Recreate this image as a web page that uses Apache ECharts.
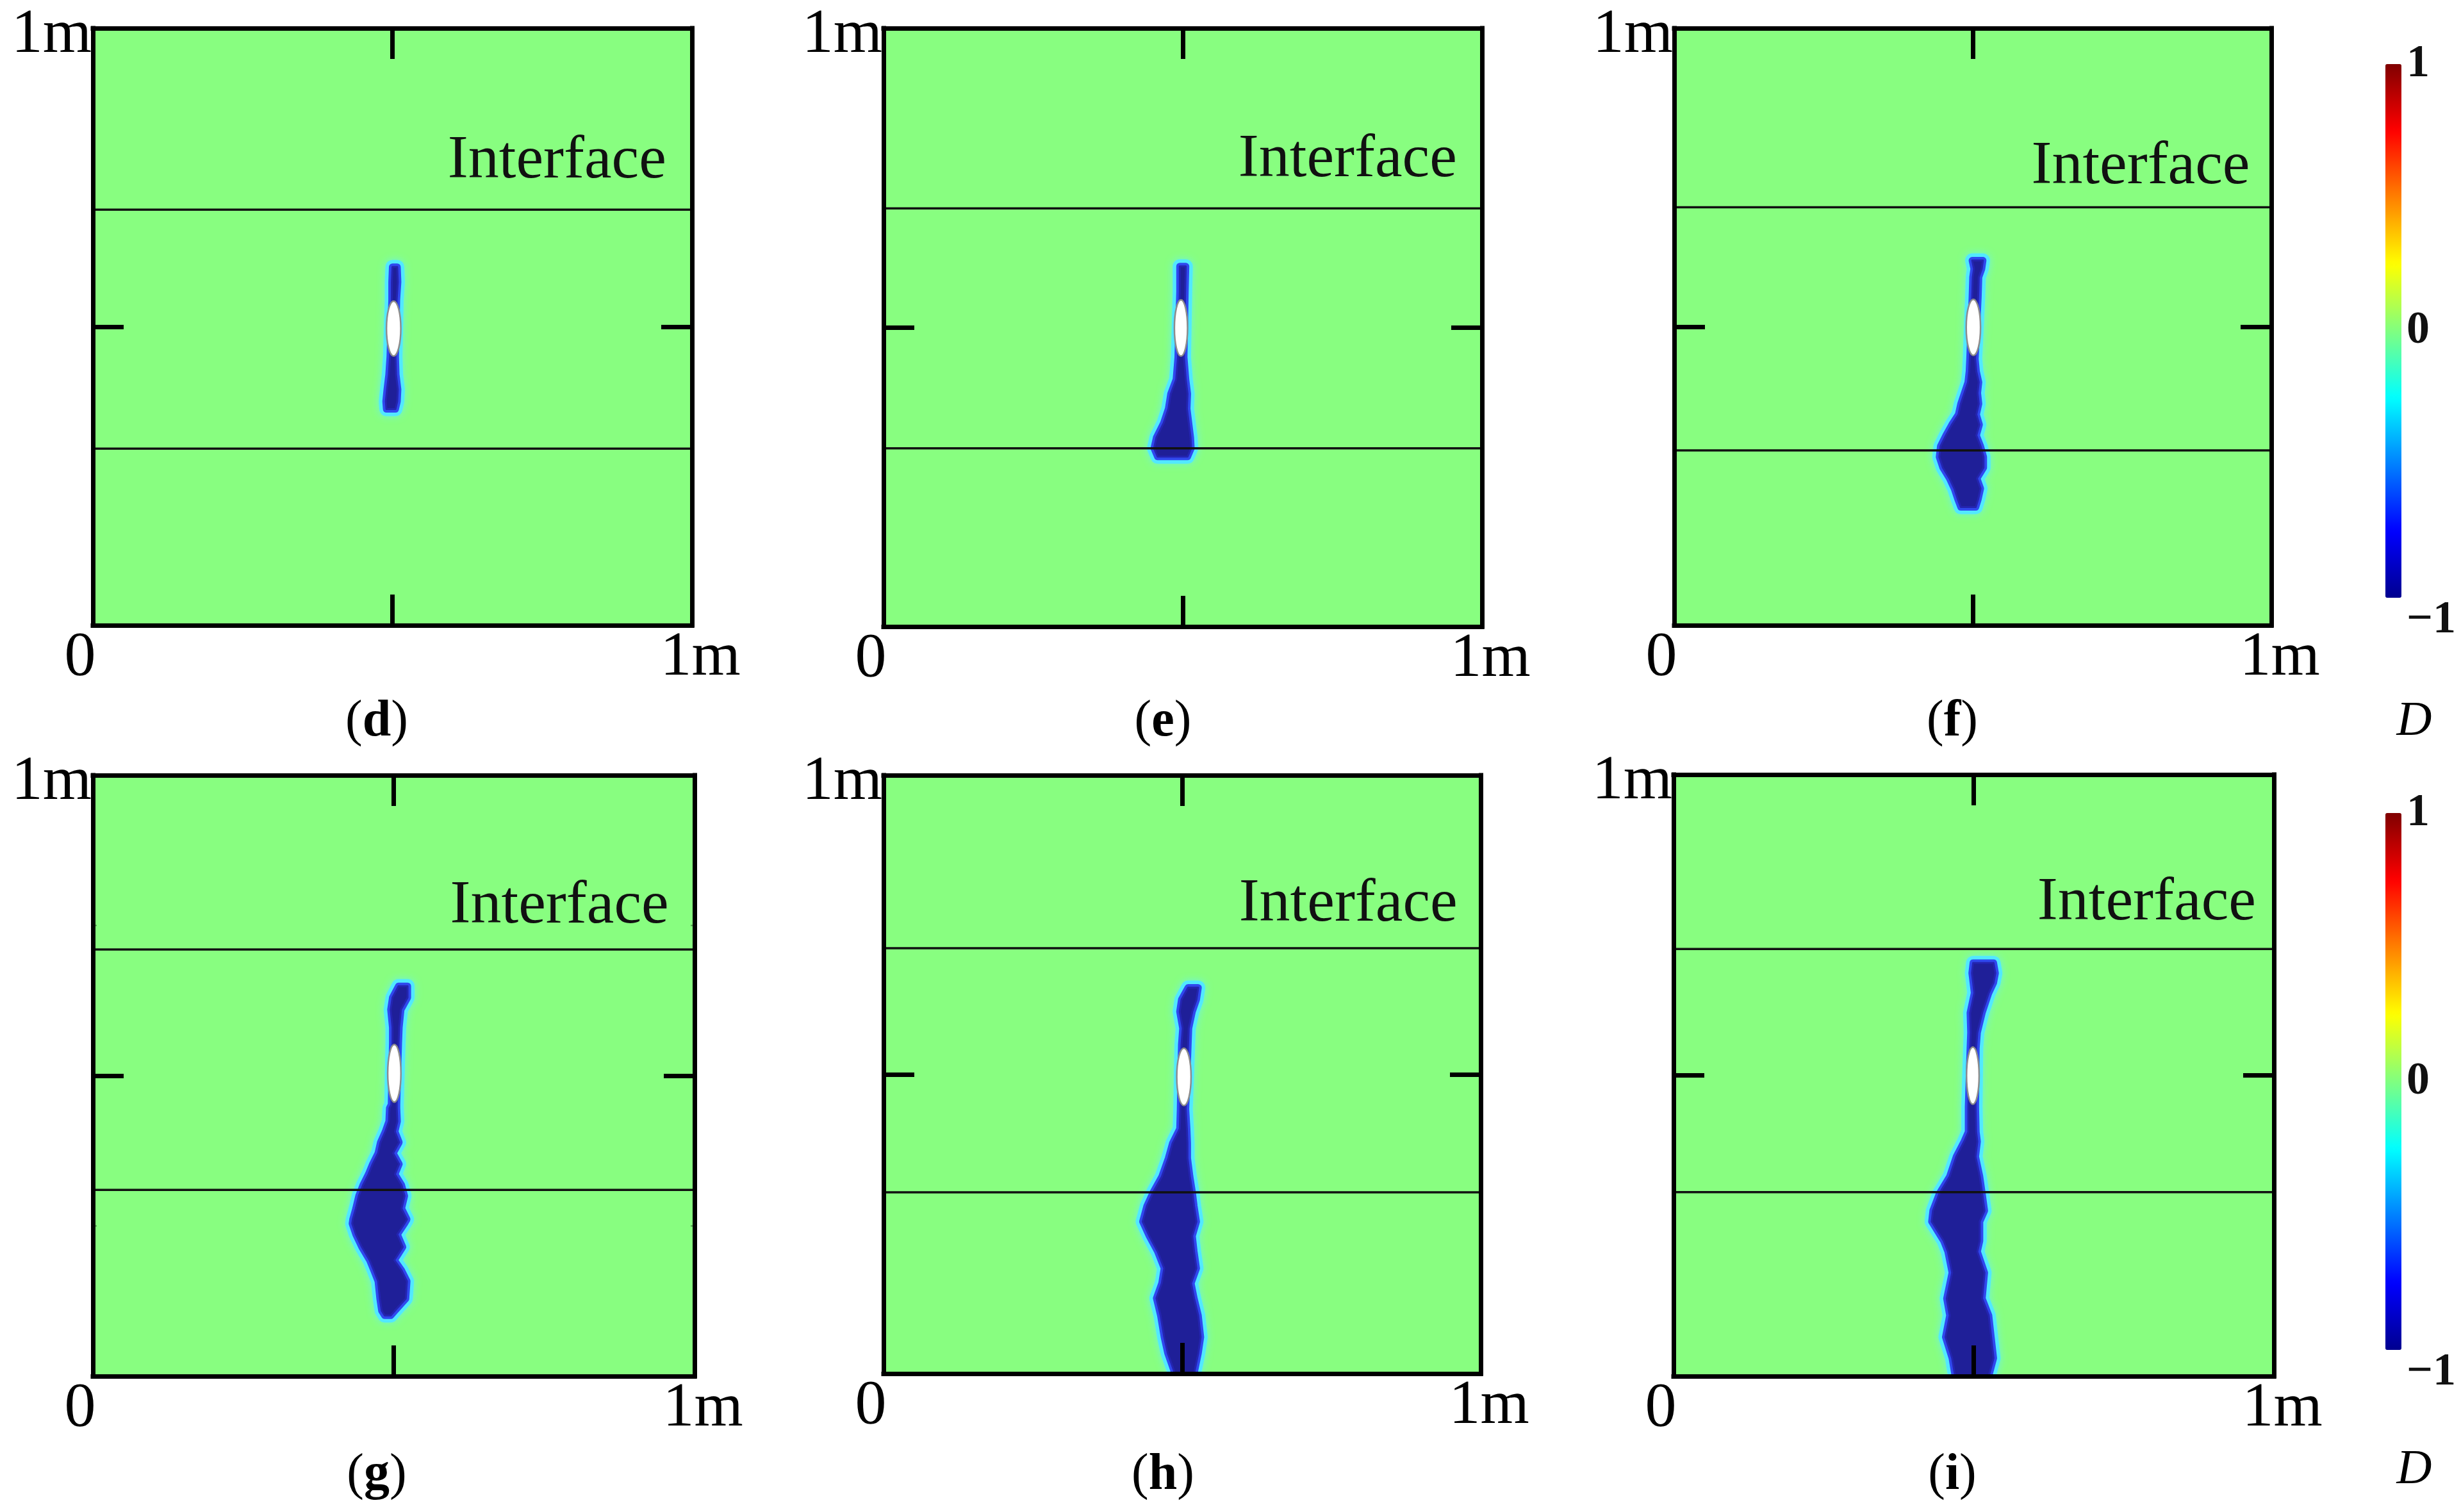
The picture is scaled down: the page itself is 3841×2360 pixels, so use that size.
<!DOCTYPE html>
<html lang="en" style="height: 100%">

<head>
    <meta charset="UTF-8">
    <title>Damage D</title>
    <script src="https://cdn.jsdelivr.net/npm/echarts@6/dist/echarts.min.js"></script>
</head>

<body style="height: 100%; margin: 0; background: #fff">
    <div id="main" style="width: 3841px; height: 2360px"></div>
    <script>
        // panel letters
        var panelNames = ['d', 'e', 'f', 'g', 'h', 'i'];

        // damage band of the crack in each panel: [y, x left, x right] (m), top to bottom
        var crackD = [
            [0.600, 0.500, 0.508], [0.575, 0.499, 0.509], [0.545, 0.499, 0.507],
            [0.450, 0.496, 0.505], [0.420, 0.494, 0.506], [0.395, 0.491, 0.509],
            [0.375, 0.489, 0.508], [0.362, 0.490, 0.505]
        ];
        var crackE = [
            [0.602, 0.495, 0.505], [0.560, 0.495, 0.504], [0.450, 0.492, 0.502],
            [0.413, 0.489, 0.505], [0.389, 0.480, 0.508], [0.364, 0.476, 0.507],
            [0.340, 0.468, 0.510], [0.316, 0.456, 0.513], [0.298, 0.452, 0.514],
            [0.284, 0.458, 0.508]
        ];
        var crackF = [
            [0.611, 0.499, 0.517], [0.597, 0.502, 0.515], [0.583, 0.500, 0.510],
            [0.550, 0.499, 0.509], [0.446, 0.495, 0.504], [0.425, 0.494, 0.506],
            [0.407, 0.492, 0.510], [0.389, 0.486, 0.508], [0.371, 0.480, 0.510],
            [0.353, 0.476, 0.506], [0.336, 0.465, 0.511], [0.318, 0.455, 0.506],
            [0.300, 0.446, 0.513], [0.282, 0.444, 0.518], [0.264, 0.450, 0.518],
            [0.246, 0.461, 0.507], [0.229, 0.469, 0.513], [0.211, 0.475, 0.509],
            [0.198, 0.480, 0.505]
        ];
        var crackG = [
            [0.649, 0.508, 0.523], [0.630, 0.498, 0.523], [0.610, 0.495, 0.512],
            [0.580, 0.498, 0.509], [0.555, 0.498, 0.508], [0.452, 0.496, 0.505],
            [0.446, 0.493, 0.505], [0.424, 0.492, 0.506], [0.407, 0.486, 0.502],
            [0.389, 0.478, 0.509], [0.371, 0.474, 0.499], [0.353, 0.465, 0.509],
            [0.336, 0.458, 0.502], [0.318, 0.449, 0.513], [0.300, 0.442, 0.518],
            [0.279, 0.437, 0.513], [0.261, 0.432, 0.522], [0.254, 0.431, 0.518],
            [0.236, 0.437, 0.506], [0.215, 0.447, 0.515], [0.193, 0.460, 0.501],
            [0.176, 0.467, 0.513], [0.158, 0.474, 0.522], [0.129, 0.477, 0.520],
            [0.109, 0.480, 0.502], [0.101, 0.485, 0.495]
        ];
        var crackH = [
            [0.645, 0.510, 0.527], [0.625, 0.499, 0.524], [0.605, 0.496, 0.517],
            [0.577, 0.501, 0.511], [0.550, 0.499, 0.510], [0.442, 0.497, 0.506],
            [0.409, 0.496, 0.508], [0.385, 0.484, 0.509], [0.360, 0.477, 0.509],
            [0.329, 0.466, 0.513], [0.304, 0.452, 0.517], [0.280, 0.441, 0.520],
            [0.254, 0.434, 0.524], [0.230, 0.445, 0.517], [0.204, 0.459, 0.520],
            [0.176, 0.470, 0.524], [0.151, 0.466, 0.515], [0.126, 0.457, 0.520],
            [0.097, 0.464, 0.527], [0.061, 0.470, 0.531], [0.034, 0.476, 0.527],
            [0.000, 0.488, 0.520]
        ];
        var crackI = [
            [0.687, 0.499, 0.533], [0.670, 0.497, 0.536], [0.654, 0.499, 0.533],
            [0.637, 0.501, 0.525], [0.604, 0.494, 0.514], [0.571, 0.495, 0.506],
            [0.545, 0.494, 0.504], [0.448, 0.491, 0.503], [0.406, 0.491, 0.504],
            [0.390, 0.484, 0.506], [0.365, 0.471, 0.503], [0.332, 0.460, 0.510],
            [0.304, 0.443, 0.514], [0.275, 0.432, 0.518], [0.257, 0.430, 0.510],
            [0.225, 0.450, 0.510], [0.207, 0.457, 0.506], [0.172, 0.464, 0.518],
            [0.129, 0.455, 0.514], [0.101, 0.460, 0.525], [0.065, 0.453, 0.529],
            [0.030, 0.464, 0.533], [0.000, 0.469, 0.525]
        ];
        var cracks = [crackD, crackE, crackF, crackG, crackH, crackI];

        // pre-existing flaw: [cx, cy, half width, half height] (m)
        var holes = [
            [0.502, 0.497, 0.012, 0.046], [0.497, 0.499, 0.011, 0.047], [0.501, 0.499, 0.012, 0.047],
            [0.501, 0.504, 0.011, 0.048], [0.503, 0.496, 0.012, 0.048], [0.4985, 0.4995, 0.0105, 0.0475]
        ];

        // interface heights (m) and where the "Interface" label sits [x right, y]
        var interfaces = [
            [0.696, 0.296], [0.699, 0.298], [0.700, 0.293],
            [0.710, 0.310], [0.711, 0.303], [0.710, 0.306]
        ];
        var interfaceLabelPos = [
            [0.957, 0.777], [0.958, 0.780], [0.964, 0.767],
            [0.957, 0.782], [0.961, 0.784], [0.970, 0.786]
        ];

        // axis ticks and labels
        var axisTicks = [0, 0.5, 1];
        var xTickLabels = ['0', '', '1m'];
        var yTickLabels = ['', '', '1m'];
        var barTickValues = [-1, 0, 1];
        var barTickLabels = ['\u22121', '0', '1'];
        var barMinorTicks = [-0.75, -0.5, -0.25, 0, 0.25, 0.5, 0.75];
        var jet = ['#00008f', '#0000ff', '#0080ff', '#00ffff', '#80ff80', '#ffff00', '#ff8000', '#ff0000', '#800000'];

        // layout (px)
        var boxes = [
            { left: 145, top: 44, width: 935, height: 932 },
            { left: 1379, top: 44, width: 934, height: 934 },
            { left: 2613, top: 44, width: 932, height: 932 },
            { left: 145, top: 1210, width: 939, height: 938 },
            { left: 1379, top: 1210, width: 932, height: 934 },
            { left: 2612, top: 1209, width: 937, height: 939 }
        ];
        var barBoxes = [
            { left: 3723, top: 100, width: 25, height: 833 },
            { left: 3723, top: 1269, width: 25, height: 838 }
        ];
        var captionX = [588, 1815, 3047];
        var captionY = [1127, 2303];

        var serif = 'Liberation Serif';
        var green = '#88fe80';

        function tickLabel(labels) {
            return function (v) {
                var k = axisTicks.indexOf(v);
                if (k < 0 || !labels[k]) return '';
                if (labels === xTickLabels) return (k === 0 ? '{l|' : '{r|') + labels[k] + '}';
                return '{t|' + labels[k] + '}';
            };
        }
        var labelRich = {
            l: { fontSize: 98, fontFamily: serif, color: '#000', padding: [0, 40, 0, 0] },
            r: { fontSize: 98, fontFamily: serif, color: '#000', padding: [0, 0, 0, 26] },
            t: { fontSize: 98, fontFamily: serif, color: '#000', padding: [22, 0, 0, 0] }
        };

        function panelAxis(p, pos, labels) {
            return {
                type: 'value', gridIndex: p, position: pos, min: 0, max: 1, interval: 0.5, z: 10,
                axisLine: { show: true, onZero: false, lineStyle: { color: '#000', width: 7, cap: 'square' } },
                axisTick: { show: true, inside: true, length: 48, lineStyle: { color: '#000', width: 7 } },
                axisLabel: labels ? { show: true, margin: 2, formatter: tickLabel(labels), rich: labelRich } : { show: false },
                splitLine: { show: false }
            };
        }

        // dark core with a blue then cyan rim, like the smeared damage field
        function crackRender(rows) {
            return function (params, api) {
                if (params.dataIndex !== 0) return null;
                var lft = rows.map(function (r) { return api.coord([r[1], r[0]]); });
                var rgt = rows.map(function (r) { return api.coord([r[2], r[0]]); }).reverse();
                var pts = lft.concat(rgt);
                return {
                    type: 'group', children: [
                        { type: 'polygon', shape: { points: pts }, style: { fill: '#52e8ff', stroke: '#52e8ff', lineWidth: 22, lineJoin: 'round', shadowBlur: 12, shadowColor: '#70f4e0' } },
                        { type: 'polygon', shape: { points: pts }, style: { fill: '#2f48ee', stroke: '#2f48ee', lineWidth: 11, lineJoin: 'round' } },
                        { type: 'polygon', shape: { points: pts }, style: { fill: '#1f1f98', stroke: '#2424b0', lineWidth: 3, lineJoin: 'round' } }
                    ]
                };
            };
        }

        function interfaceRender(labelPos) {
            return function (params, api) {
                var y = api.value(0);
                var a = api.coord([0, y]);
                var b = api.coord([1, y]);
                var kids = [{ type: 'line', shape: { x1: a[0], y1: a[1], x2: b[0], y2: b[1] }, style: { stroke: '#111', lineWidth: 3.5 } }];
                if (params.dataIndex === 0) {
                    var t = api.coord(labelPos);
                    kids.push({
                        type: 'text', x: t[0], y: t[1],
                        style: { text: 'Interface', fontSize: 96, fontFamily: serif, fill: '#111', align: 'right', verticalAlign: 'middle', textAlign: 'right', textVerticalAlign: 'middle' }
                    });
                }
                return { type: 'group', children: kids };
            };
        }

        function holeRender(params, api) {
            var c = api.coord([api.value(0), api.value(1)]);
            var s = api.size([api.value(2), api.value(3)]);
            return { type: 'ellipse', shape: { cx: c[0], cy: c[1], rx: s[0], ry: s[1] }, style: { fill: '#fff', stroke: '#8c8c8c', lineWidth: 2.5 } };
        }

        function barTickRender(params, api) {
            var a = api.coord([0, api.value(0)]);
            var b = api.coord([1, api.value(0)]);
            var st = { stroke: 'rgba(0,0,0,0.22)', lineWidth: 2 };
            return {
                type: 'group', children: [
                    { type: 'line', shape: { x1: a[0], y1: a[1], x2: a[0] + 6, y2: a[1] }, style: st },
                    { type: 'line', shape: { x1: b[0] - 6, y1: b[1], x2: b[0], y2: b[1] }, style: st }
                ]
            };
        }

        var grid = [], xAxis = [], yAxis = [], series = [], graphic = [];

        boxes.forEach(function (b, p) {
            grid.push({ left: b.left, top: b.top, width: b.width, height: b.height, show: true, backgroundColor: green, borderWidth: 0 });
            xAxis.push(panelAxis(p, 'bottom', xTickLabels), panelAxis(p, 'top', null));
            yAxis.push(panelAxis(p, 'left', yTickLabels), panelAxis(p, 'right', null));
            series.push({
                type: 'custom', name: 'crack ' + panelNames[p], xAxisIndex: 2 * p, yAxisIndex: 2 * p, clip: true, z: 2,
                data: cracks[p], encode: { x: [1, 2], y: 0 }, renderItem: crackRender(cracks[p]), silent: true
            }, {
                type: 'custom', name: 'interface ' + panelNames[p], xAxisIndex: 2 * p, yAxisIndex: 2 * p, z: 3,
                data: interfaces[p].map(function (v) { return [v]; }), encode: { y: 0 }, renderItem: interfaceRender(interfaceLabelPos[p]), silent: true
            }, {
                type: 'custom', name: 'flaw ' + panelNames[p], xAxisIndex: 2 * p, yAxisIndex: 2 * p, z: 4,
                data: [holes[p]], encode: { x: 0, y: 1 }, renderItem: holeRender, silent: true
            });
            graphic.push({
                type: 'text', x: captionX[p % 3], y: captionY[Math.floor(p / 3)],
                style: {
                    text: '{n|(}{b|' + panelNames[p] + '}{n|)}', align: 'center', verticalAlign: 'middle', textAlign: 'center', textVerticalAlign: 'middle',
                    rich: { n: { fontSize: 80, fontFamily: serif, fill: '#000', color: '#000' }, b: { fontSize: 80, fontFamily: serif, fontWeight: 'bold', fill: '#000', color: '#000' } }
                }
            });
        });

        var visualMap = [];
        barBoxes.forEach(function (b, k) {
            var gi = boxes.length + k;
            grid.push({ left: b.left, top: b.top, width: b.width, height: b.height, show: false });
            xAxis.push({ type: 'value', gridIndex: gi, min: 0, max: 1, show: false });
            yAxis.push({
                type: 'value', gridIndex: gi, position: 'right', min: -1, max: 1, interval: 1,
                axisLine: { show: false }, axisTick: { show: false }, splitLine: { show: false },
                axisLabel: {
                    margin: 8,
                    formatter: function (v) {
                        var i = barTickValues.indexOf(v);
                        if (i < 0) return '';
                        return (v === -1 ? '{lo|' : '{n|') + barTickLabels[i] + '}';
                    },
                    rich: {
                        n: { fontSize: 72, fontFamily: serif, fontWeight: 'bold', color: '#111' },
                        lo: { fontSize: 72, fontFamily: serif, fontWeight: 'bold', color: '#111', padding: [70, 0, 0, 0] }
                    }
                }
            });
            series.push({
                type: 'custom', name: 'colorbar ' + k, xAxisIndex: gi, yAxisIndex: gi, z: 10,
                data: barMinorTicks.map(function (v) { return [v]; }), encode: { y: 0 }, renderItem: barTickRender, silent: true
            });
            visualMap.push({
                type: 'continuous', min: -1, max: 1, seriesIndex: series.length - 1, dimension: 0,
                orient: 'vertical', left: b.left, top: b.top, padding: 0, itemWidth: b.width, itemHeight: b.height,
                calculable: false, hoverLink: false, text: null, inRange: { color: jet }, z: 4
            });
            graphic.push({
                type: 'text', x: 3768, y: captionY[k] - (k === 1 ? 8 : 0),
                style: { text: 'D', fontSize: 76, fontFamily: serif, fontStyle: 'italic', fill: '#000', align: 'center', verticalAlign: 'middle', textAlign: 'center', textVerticalAlign: 'middle' }
            });
        });

        var myChart = echarts.init(document.getElementById('main'));
        var option = {
            backgroundColor: '#fff',
            animation: false,
            grid: grid,
            xAxis: xAxis,
            yAxis: yAxis,
            visualMap: visualMap,
            graphic: graphic,
            series: series
        };
        myChart.setOption(option);
        window.addEventListener('resize', myChart.resize);
    </script>
</body>

</html>
